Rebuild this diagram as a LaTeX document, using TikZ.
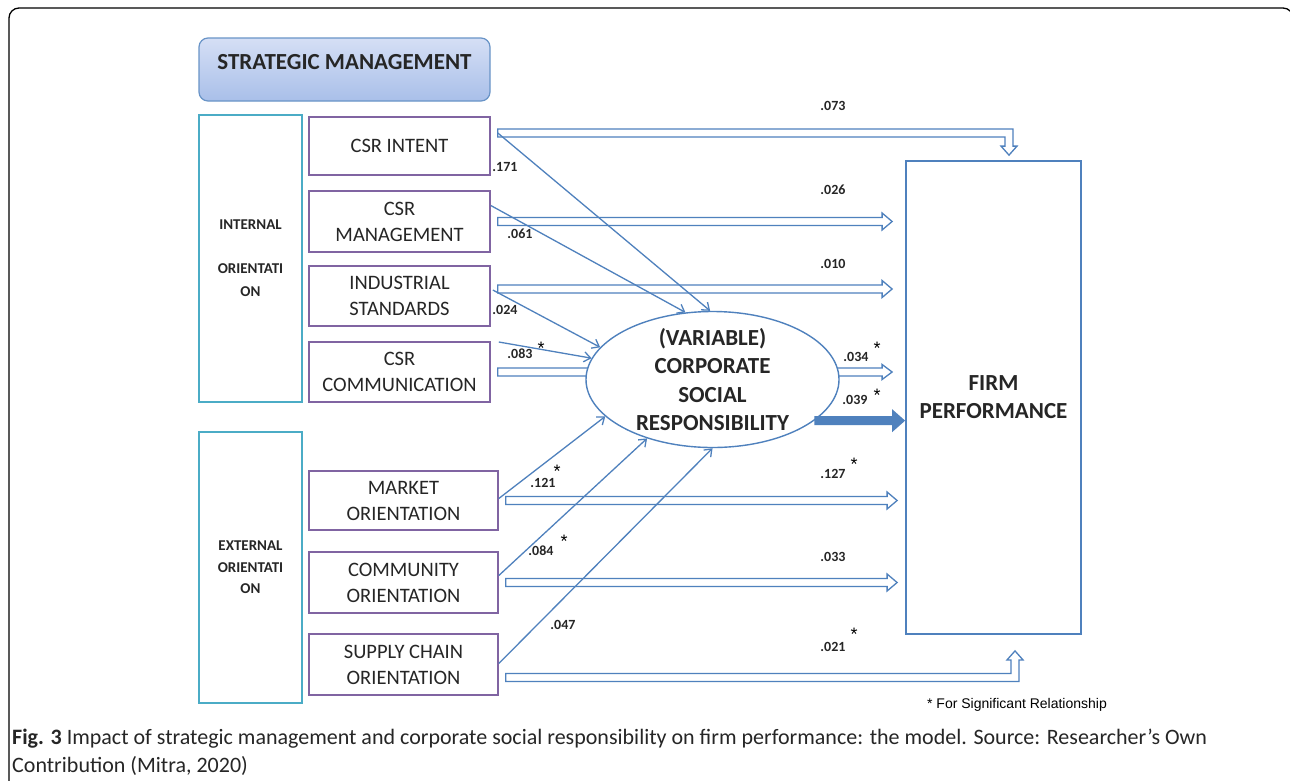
\documentclass[tikz,border=0pt]{standalone}
\usepackage{fontspec}
\setmainfont{Carlito}
\newfontfamily\arialf{Liberation Sans}
\usetikzlibrary{shapes.geometric,arrows.meta,calc}
\pgfdeclarelayer{bg}
\pgfsetlayers{bg,main}
\definecolor{ob}{HTML}{4F81BD}
\definecolor{pur}{HTML}{8064A2}
\definecolor{cy}{HTML}{4BACC6}
\definecolor{txt}{HTML}{262626}
\definecolor{smtop}{HTML}{D5DFF5}
\definecolor{smbot}{HTML}{A9BFE9}
% horizontal arrow polygon: style, start, end(x only), shaft half, head half, head length
\newcommand\harrow[6]{%
  \path[#1] let \p1=(#2), \p2=(#3) in (\x1,{\y1+#4}) -- ({\x2-#6},{\y1+#4}) -- ({\x2-#6},{\y1+#5}) -- (\x2,\y1)
   -- ({\x2-#6},{\y1-#5}) -- ({\x2-#6},{\y1-#4}) -- (\x1,{\y1-#4}) -- cycle;}
\newcommand\hollowDown[2]{%
  \path[hol] let \p1=(#1), \p2=(#2) in (\x1,{\y1+4pt}) -- ({\x2+4pt},{\y1+4pt}) -- ({\x2+4pt},{\y2+9pt}) -- ({\x2+8pt},{\y2+9pt})
   -- (\x2,\y2) -- ({\x2-8pt},{\y2+9pt}) -- ({\x2-4pt},{\y2+9pt}) -- ({\x2-4pt},{\y1-4pt}) -- (\x1,{\y1-4pt}) -- cycle;}
\newcommand\hollowUp[2]{%
  \path[hol] let \p1=(#1), \p2=(#2) in (\x1,{\y1-4pt}) -- ({\x2+4pt},{\y1-4pt}) -- ({\x2+4pt},{\y2-9pt}) -- ({\x2+8pt},{\y2-9pt})
   -- (\x2,\y2) -- ({\x2-8pt},{\y2-9pt}) -- ({\x2-4pt},{\y2-9pt}) -- ({\x2-4pt},{\y1+4pt}) -- (\x1,{\y1+4pt}) -- cycle;}
\begin{document}
\begin{tikzpicture}[x=1pt,y=-1pt,
  purbox/.style={draw=pur, line width=1.6pt, fill=white, inner sep=0pt, align=center, text=txt, font=\fontsize{20.5}{26}\selectfont},
  cybox/.style={draw=cy, line width=1.6pt, inner sep=0pt, align=center, text=txt, font=\bfseries\fontsize{15}{23}\selectfont},
  hol/.style={draw=ob, line width=1.3pt, line join=miter},
  lnk/.style={draw=ob, line width=1.3pt, -{Straight Barb[length=6.5pt,width=10pt]}},
  lab/.style={inner sep=0pt, text=txt, font=\bfseries\fontsize{14}{14}\selectfont},
  sig/.style={inner sep=0pt, anchor=north, text=black, font=\arialf\fontsize{18}{18}\selectfont},
]
\useasboundingbox (0,0) rectangle (1290,780);
\clip (0,0) rectangle (1290,780);
\begin{pgfonlayer}{bg}
\fill[white] (0,0) rectangle (1290,780);
\end{pgfonlayer}
\draw[line width=1.3pt, rounded corners=10pt] (9,8) rectangle (1293,800);

% header
\node[draw=ob!85, line width=1.2pt, rounded corners=9pt, top color=smtop, bottom color=smbot,
      minimum width=291pt, minimum height=63pt, inner sep=0pt] (sm) at (344.5,69.5) {};
\node[inner sep=0pt, text=txt, font=\bfseries\fontsize{23}{23}\selectfont] (smt) at (344.5,62.5) {STRATEGIC MANAGEMENT};

% group boxes
\node[cybox, minimum width=103pt, minimum height=287pt] (intl) at (250.5,258.5) {INTERNAL\\[21pt]ORIENTATI\\ON};
\node[cybox, minimum width=103pt, minimum height=271pt, font=\bfseries\fontsize{15}{21.5}\selectfont] (extl) at (250.5,567.5) {EXTERNAL\\ORIENTATI\\ON};

% factor boxes
\node[purbox, minimum width=181pt, minimum height=58pt] (intent) at (399.5,146) {CSR INTENT};
\node[purbox, minimum width=181pt, minimum height=61pt] (mgmt) at (399.5,221.5) {CSR\\MANAGEMENT};
\node[purbox, minimum width=181pt, minimum height=60pt] (indus) at (399.5,296) {INDUSTRIAL\\STANDARDS};
\node[purbox, minimum width=181pt, minimum height=60pt] (comm) at (399.5,372) {CSR\\COMMUNICATION};
\node[purbox, minimum width=189pt, minimum height=59pt] (market) at (403.5,500.5) {MARKET\\ORIENTATION};
\node[purbox, minimum width=189pt, minimum height=61pt] (commun) at (403.5,582.5) {COMMUNITY\\ORIENTATION};
\node[purbox, minimum width=189pt, minimum height=61pt] (supply) at (403.5,664.5) {SUPPLY CHAIN\\ORIENTATION};

% firm performance
\node[draw=ob, line width=1.8pt, minimum width=175pt, minimum height=473pt, inner sep=0pt, align=center,
      font=\bfseries\fontsize{23}{28}\selectfont, text=txt] (fp) at (993.5,397.5) {FIRM\\PERFORMANCE};

% CSR ellipse
\node[ellipse, draw=ob, line width=1.4pt, fill=white, minimum width=253pt, minimum height=136pt, inner sep=0pt] (csr) at (712.5,379.5) {};
\node[inner sep=0pt, align=center, font=\bfseries\fontsize{23}{28.4}\selectfont, text=txt] (csrt) at (csr.center) {(VARIABLE)\\CORPORATE\\SOCIAL\\RESPONSIBILITY};

% hollow arrows (behind the ellipse)
\begin{pgfonlayer}{bg}
\hollowDown{$(intent.east)+(7,-13)$}{$(fp.north)+(15.5,-5)$}
\harrow{hol}{$(mgmt.east)+(7,0)$}{$(fp.west)+(-13,0)$}{4pt}{8.5pt}{10pt}
\harrow{hol}{$(indus.east)+(7,-7)$}{$(fp.west)+(-13,0)$}{4pt}{8.5pt}{10pt}
\harrow{hol}{$(comm.east)+(7,0)$}{csr.center}{4pt}{8.5pt}{10pt}
\harrow{hol}{$(csr.center)+(0,-7.5)$}{$(fp.west)+(-13,0)$}{4pt}{7.5pt}{10pt}
\harrow{hol}{$(market.east)+(7,0)$}{$(fp.west)+(-8,0)$}{4pt}{8.5pt}{10pt}
\harrow{hol}{$(commun.east)+(7,0)$}{$(fp.west)+(-8,0)$}{4pt}{8.5pt}{10pt}
\hollowUp{$(supply.east)+(7,13)$}{$(fp.south)+(21.5,16)$}
\end{pgfonlayer}

% thick arrow
\harrow{fill=ob}{csr.-22}{fp.west}{4.5pt}{11.5pt}{13pt}

% thin arrows into the ellipse
\draw[lnk] ($(intent.east)+(7,-13)$) -- (csr.92);
\draw[lnk] ($(mgmt.east)+(0,-16)$) -- (csr.112);
\draw[lnk] ($(indus.east)+(2,-6)$) -- (csr.164);
\draw[lnk] ($(comm.east)+(8,-30)$) -- (csr.170);
\draw[lnk] ($(market.east)+(0,-2)$) -- (csr.199);
\draw[lnk] ($(commun.east)+(0,-7)$) -- (csr.222);
\draw[lnk] ($(supply.east)+(0,-1)$) -- (csr.270);

% coefficient labels
\node[lab] (l073) at (833,106) {.073};
\node[lab] (l171) at (505,167) {.171};
\node[lab] (l026) at (833,190) {.026};
\node[lab] (l061) at (520,234) {.061};
\node[lab] (l010) at (833,264) {.010};
\node[lab] (l024) at (505,310) {.024};
\node[lab] (l083) at (520,354) {.083};
\node[sig] (s083) at (541,342) {*};
\node[lab] (l034) at (856,357) {.034};
\node[sig] (s034) at (877,342) {*};
\node[lab] (l039) at (855,400) {.039};
\node[sig] (s039) at (877,389) {*};
\node[lab] (l121) at (543,483) {.121};
\node[sig] (s121) at (557,465) {*};
\node[lab] (l127) at (833,474) {.127};
\node[sig] (s127) at (854,458) {*};
\node[lab] (l084) at (541,551) {.084};
\node[sig] (s084) at (564,535) {*};
\node[lab] (l033) at (833,557) {.033};
\node[lab] (l047) at (563,625) {.047};
\node[lab] (l021) at (833,647) {.021};
\node[sig] (s021) at (854,628) {*};

\node[inner sep=0pt, anchor=base, font=\arialf\fontsize{14}{14}\selectfont] (note) at (1017,708) {* For Significant Relationship};

% caption
\node[inner sep=0pt, anchor=base west, text=txt, font=\fontsize{22}{28}\selectfont] (cap1) at (12,744)
  {\textbf{Fig. 3} Impact of strategic management and corporate social responsibility on firm performance: the model. Source: Researcher’s Own};
\node[inner sep=0pt, anchor=base west, text=txt, font=\fontsize{22}{28}\selectfont] (cap2) at (12,772)
  {Contribution (Mitra, 2020)};
\end{tikzpicture}
\end{document}
